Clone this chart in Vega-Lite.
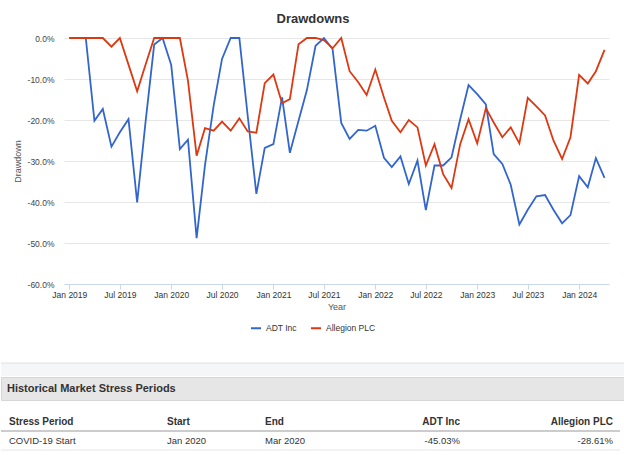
{
  "$schema": "https://vega.github.io/schema/vega-lite/v6.json",
  "description": "ADT Inc vs Allegion PLC drawdowns with historical market stress periods table.",
  "background": "white",
  "padding": {"left": 0, "right": 0, "top": 13, "bottom": 0},
  "config": {
    "font": "Liberation Sans",
    "view": {"stroke": null},
    "locale": {"number": {"decimal": ".", "thousands": ",", "grouping": [3], "currency": ["$", ""], "minus": "-"}},
    "legend": {"layout": {"bottom": {"anchor": "middle"}}},
    "text": {"fontSize": 9.5, "color": "#333333", "baseline": "middle"}
  },
  "datasets": {
    "drawdowns": [
      {"date": "2019-01-01", "series": "ADT Inc", "drawdown": 0},
      {"date": "2019-02-01", "series": "ADT Inc", "drawdown": 0},
      {"date": "2019-03-01", "series": "ADT Inc", "drawdown": 0},
      {"date": "2019-04-01", "series": "ADT Inc", "drawdown": -0.202},
      {"date": "2019-05-01", "series": "ADT Inc", "drawdown": -0.173},
      {"date": "2019-06-01", "series": "ADT Inc", "drawdown": -0.265},
      {"date": "2019-07-01", "series": "ADT Inc", "drawdown": -0.230},
      {"date": "2019-08-01", "series": "ADT Inc", "drawdown": -0.198},
      {"date": "2019-09-01", "series": "ADT Inc", "drawdown": -0.401},
      {"date": "2019-10-01", "series": "ADT Inc", "drawdown": -0.205},
      {"date": "2019-11-01", "series": "ADT Inc", "drawdown": -0.016},
      {"date": "2019-12-01", "series": "ADT Inc", "drawdown": 0},
      {"date": "2020-01-01", "series": "ADT Inc", "drawdown": -0.066},
      {"date": "2020-02-01", "series": "ADT Inc", "drawdown": -0.271},
      {"date": "2020-03-01", "series": "ADT Inc", "drawdown": -0.248},
      {"date": "2020-04-01", "series": "ADT Inc", "drawdown": -0.488},
      {"date": "2020-05-01", "series": "ADT Inc", "drawdown": -0.310},
      {"date": "2020-06-01", "series": "ADT Inc", "drawdown": -0.165},
      {"date": "2020-07-01", "series": "ADT Inc", "drawdown": -0.051},
      {"date": "2020-08-01", "series": "ADT Inc", "drawdown": 0},
      {"date": "2020-09-01", "series": "ADT Inc", "drawdown": 0},
      {"date": "2020-10-01", "series": "ADT Inc", "drawdown": -0.190},
      {"date": "2020-11-01", "series": "ADT Inc", "drawdown": -0.380},
      {"date": "2020-12-01", "series": "ADT Inc", "drawdown": -0.268},
      {"date": "2021-01-01", "series": "ADT Inc", "drawdown": -0.259},
      {"date": "2021-02-01", "series": "ADT Inc", "drawdown": -0.145},
      {"date": "2021-03-01", "series": "ADT Inc", "drawdown": -0.280},
      {"date": "2021-04-01", "series": "ADT Inc", "drawdown": -0.202},
      {"date": "2021-05-01", "series": "ADT Inc", "drawdown": -0.127},
      {"date": "2021-06-01", "series": "ADT Inc", "drawdown": -0.019},
      {"date": "2021-07-01", "series": "ADT Inc", "drawdown": 0},
      {"date": "2021-08-01", "series": "ADT Inc", "drawdown": -0.027},
      {"date": "2021-09-01", "series": "ADT Inc", "drawdown": -0.207},
      {"date": "2021-10-01", "series": "ADT Inc", "drawdown": -0.246},
      {"date": "2021-11-01", "series": "ADT Inc", "drawdown": -0.224},
      {"date": "2021-12-01", "series": "ADT Inc", "drawdown": -0.226},
      {"date": "2022-01-01", "series": "ADT Inc", "drawdown": -0.214},
      {"date": "2022-02-01", "series": "ADT Inc", "drawdown": -0.292},
      {"date": "2022-03-01", "series": "ADT Inc", "drawdown": -0.315},
      {"date": "2022-04-01", "series": "ADT Inc", "drawdown": -0.289},
      {"date": "2022-05-01", "series": "ADT Inc", "drawdown": -0.356},
      {"date": "2022-06-01", "series": "ADT Inc", "drawdown": -0.299},
      {"date": "2022-07-01", "series": "ADT Inc", "drawdown": -0.420},
      {"date": "2022-08-01", "series": "ADT Inc", "drawdown": -0.311},
      {"date": "2022-09-01", "series": "ADT Inc", "drawdown": -0.311},
      {"date": "2022-10-01", "series": "ADT Inc", "drawdown": -0.291},
      {"date": "2022-11-01", "series": "ADT Inc", "drawdown": -0.198},
      {"date": "2022-12-01", "series": "ADT Inc", "drawdown": -0.115},
      {"date": "2023-01-01", "series": "ADT Inc", "drawdown": -0.137},
      {"date": "2023-02-01", "series": "ADT Inc", "drawdown": -0.162},
      {"date": "2023-03-01", "series": "ADT Inc", "drawdown": -0.283},
      {"date": "2023-04-01", "series": "ADT Inc", "drawdown": -0.307},
      {"date": "2023-05-01", "series": "ADT Inc", "drawdown": -0.358},
      {"date": "2023-06-01", "series": "ADT Inc", "drawdown": -0.455},
      {"date": "2023-07-01", "series": "ADT Inc", "drawdown": -0.419},
      {"date": "2023-08-01", "series": "ADT Inc", "drawdown": -0.386},
      {"date": "2023-09-01", "series": "ADT Inc", "drawdown": -0.383},
      {"date": "2023-10-01", "series": "ADT Inc", "drawdown": -0.419},
      {"date": "2023-11-01", "series": "ADT Inc", "drawdown": -0.452},
      {"date": "2023-12-01", "series": "ADT Inc", "drawdown": -0.432},
      {"date": "2024-01-01", "series": "ADT Inc", "drawdown": -0.337},
      {"date": "2024-02-01", "series": "ADT Inc", "drawdown": -0.364},
      {"date": "2024-03-01", "series": "ADT Inc", "drawdown": -0.293},
      {"date": "2024-04-01", "series": "ADT Inc", "drawdown": -0.341},
      {"date": "2019-01-01", "series": "Allegion PLC", "drawdown": 0},
      {"date": "2019-02-01", "series": "Allegion PLC", "drawdown": 0},
      {"date": "2019-03-01", "series": "Allegion PLC", "drawdown": 0},
      {"date": "2019-04-01", "series": "Allegion PLC", "drawdown": 0},
      {"date": "2019-05-01", "series": "Allegion PLC", "drawdown": 0},
      {"date": "2019-06-01", "series": "Allegion PLC", "drawdown": -0.021},
      {"date": "2019-07-01", "series": "Allegion PLC", "drawdown": 0},
      {"date": "2019-08-01", "series": "Allegion PLC", "drawdown": -0.065},
      {"date": "2019-09-01", "series": "Allegion PLC", "drawdown": -0.130},
      {"date": "2019-10-01", "series": "Allegion PLC", "drawdown": -0.065},
      {"date": "2019-11-01", "series": "Allegion PLC", "drawdown": 0},
      {"date": "2019-12-01", "series": "Allegion PLC", "drawdown": 0},
      {"date": "2020-01-01", "series": "Allegion PLC", "drawdown": 0},
      {"date": "2020-02-01", "series": "Allegion PLC", "drawdown": 0},
      {"date": "2020-03-01", "series": "Allegion PLC", "drawdown": -0.104},
      {"date": "2020-04-01", "series": "Allegion PLC", "drawdown": -0.287},
      {"date": "2020-05-01", "series": "Allegion PLC", "drawdown": -0.220},
      {"date": "2020-06-01", "series": "Allegion PLC", "drawdown": -0.226},
      {"date": "2020-07-01", "series": "Allegion PLC", "drawdown": -0.204},
      {"date": "2020-08-01", "series": "Allegion PLC", "drawdown": -0.226},
      {"date": "2020-09-01", "series": "Allegion PLC", "drawdown": -0.196},
      {"date": "2020-10-01", "series": "Allegion PLC", "drawdown": -0.228},
      {"date": "2020-11-01", "series": "Allegion PLC", "drawdown": -0.231},
      {"date": "2020-12-01", "series": "Allegion PLC", "drawdown": -0.110},
      {"date": "2021-01-01", "series": "Allegion PLC", "drawdown": -0.089},
      {"date": "2021-02-01", "series": "Allegion PLC", "drawdown": -0.159},
      {"date": "2021-03-01", "series": "Allegion PLC", "drawdown": -0.149},
      {"date": "2021-04-01", "series": "Allegion PLC", "drawdown": -0.015},
      {"date": "2021-05-01", "series": "Allegion PLC", "drawdown": 0},
      {"date": "2021-06-01", "series": "Allegion PLC", "drawdown": 0},
      {"date": "2021-07-01", "series": "Allegion PLC", "drawdown": -0.005},
      {"date": "2021-08-01", "series": "Allegion PLC", "drawdown": -0.025},
      {"date": "2021-09-01", "series": "Allegion PLC", "drawdown": 0},
      {"date": "2021-10-01", "series": "Allegion PLC", "drawdown": -0.081},
      {"date": "2021-11-01", "series": "Allegion PLC", "drawdown": -0.108},
      {"date": "2021-12-01", "series": "Allegion PLC", "drawdown": -0.139},
      {"date": "2022-01-01", "series": "Allegion PLC", "drawdown": -0.077},
      {"date": "2022-02-01", "series": "Allegion PLC", "drawdown": -0.145},
      {"date": "2022-03-01", "series": "Allegion PLC", "drawdown": -0.202},
      {"date": "2022-04-01", "series": "Allegion PLC", "drawdown": -0.230},
      {"date": "2022-05-01", "series": "Allegion PLC", "drawdown": -0.200},
      {"date": "2022-06-01", "series": "Allegion PLC", "drawdown": -0.218},
      {"date": "2022-07-01", "series": "Allegion PLC", "drawdown": -0.311},
      {"date": "2022-08-01", "series": "Allegion PLC", "drawdown": -0.259},
      {"date": "2022-09-01", "series": "Allegion PLC", "drawdown": -0.332},
      {"date": "2022-10-01", "series": "Allegion PLC", "drawdown": -0.366},
      {"date": "2022-11-01", "series": "Allegion PLC", "drawdown": -0.259},
      {"date": "2022-12-01", "series": "Allegion PLC", "drawdown": -0.198},
      {"date": "2023-01-01", "series": "Allegion PLC", "drawdown": -0.257},
      {"date": "2023-02-01", "series": "Allegion PLC", "drawdown": -0.171},
      {"date": "2023-03-01", "series": "Allegion PLC", "drawdown": -0.206},
      {"date": "2023-04-01", "series": "Allegion PLC", "drawdown": -0.242},
      {"date": "2023-05-01", "series": "Allegion PLC", "drawdown": -0.218},
      {"date": "2023-06-01", "series": "Allegion PLC", "drawdown": -0.257},
      {"date": "2023-07-01", "series": "Allegion PLC", "drawdown": -0.146},
      {"date": "2023-08-01", "series": "Allegion PLC", "drawdown": -0.167},
      {"date": "2023-09-01", "series": "Allegion PLC", "drawdown": -0.189},
      {"date": "2023-10-01", "series": "Allegion PLC", "drawdown": -0.250},
      {"date": "2023-11-01", "series": "Allegion PLC", "drawdown": -0.295},
      {"date": "2023-12-01", "series": "Allegion PLC", "drawdown": -0.242},
      {"date": "2024-01-01", "series": "Allegion PLC", "drawdown": -0.090},
      {"date": "2024-02-01", "series": "Allegion PLC", "drawdown": -0.111},
      {"date": "2024-03-01", "series": "Allegion PLC", "drawdown": -0.081},
      {"date": "2024-04-01", "series": "Allegion PLC", "drawdown": -0.029}
    ],
    "stress": [
      {"Stress Period": "COVID-19 Start", "Start": "Jan 2020", "End": "Mar 2020", "ADT Inc": "-45.03%", "Allegion PLC": "-28.61%"}
    ]
  },
  "resolve": {"scale": {"color": "independent"}, "legend": {"color": "independent"}},
  "spacing": 29,
  "vconcat": [
    {
      "width": 624,
      "height": 246,
      "view": {"stroke": null},
      "title": {"text": "Drawdowns", "fontSize": 13, "fontWeight": "bold", "color": "#333333", "offset": 8},
      "data": {"name": "drawdowns"},
      "mark": {"type": "line", "strokeWidth": 1.8},
      "encoding": {
        "x": {
          "field": "date",
          "type": "temporal",
          "title": "Year",
          "scale": {"type": "utc", "domain": ["2018-12-13", "2024-04-17"], "range": [63, 608]},
          "axis": {
            "format": "%b %Y",
            "tickCount": {"interval": "month", "step": 6},
            "grid": false,
            "domainColor": "#ccd6eb",
            "tickColor": "#ccd6eb",
            "tickSize": 5,
            "labelFontSize": 8.5,
            "labelColor": "#333333",
            "labelPadding": 1,
            "titleFontSize": 9,
            "titleFontWeight": "normal",
            "titleColor": "#555555",
            "titlePadding": 4
          }
        },
        "y": {
          "field": "drawdown",
          "type": "quantitative",
          "title": "Drawdown",
          "scale": {"domain": [-0.6, 0], "nice": false, "zero": false},
          "axis": {
            "format": ".1%",
            "values": [0, -0.1, -0.2, -0.3, -0.4, -0.5, -0.6],
            "offset": -63,
            "domain": false,
            "ticks": false,
            "gridColor": "#e6e6e6",
            "labelFontSize": 8.5,
            "labelColor": "#444444",
            "labelPadding": 10,
            "titleFontSize": 9,
            "titleFontWeight": "normal",
            "titleColor": "#555555",
            "titlePadding": 5
          }
        },
        "color": {
          "field": "series",
          "type": "nominal",
          "scale": {"domain": ["ADT Inc", "Allegion PLC"], "range": ["#3366cc", "#dc3912"]},
          "legend": {
            "orient": "bottom",
            "title": null,
            "direction": "horizontal",
            "symbolType": "stroke",
            "symbolStrokeWidth": 2,
            "symbolSize": 100,
            "labelFontSize": 8.5,
            "labelColor": "#333333",
            "columnPadding": 10,
            "offset": 10
          }
        }
      }
    },
    {
      "spacing": 11,
      "vconcat": [
        {
          "spacing": 0,
          "vconcat": [
            {
              "width": 624,
              "height": 13,
              "view": {"fill": "#f5f6f8", "stroke": null},
              "data": {"values": [{"part": "divider"}]},
              "mark": {"type": "rule", "color": "#e0e0e0", "strokeWidth": 1},
              "encoding": {
                "y": {"datum": 1, "type": "quantitative", "scale": {"domain": [0, 1]}, "axis": null}
              }
            },
            {
              "width": 624,
              "height": 23,
              "view": {"fill": "#e6e6e6", "stroke": "#d6d6d6"},
              "data": {"values": [{"section": "Historical Market Stress Periods"}]},
              "mark": {"type": "text", "align": "left", "fontWeight": "bold", "fontSize": 11, "dx": 6},
              "encoding": {
                "text": {"field": "section"},
                "x": {"datum": 0, "type": "quantitative", "scale": {"domain": [0, 1]}, "axis": null}
              }
            }
          ]
        },
        {
          "spacing": 0,
          "bounds": "flush",
          "hconcat": [
            {
              "width": 163,
              "height": 57,
              "data": {"name": "stress"},
              "transform": [{"fold": ["Stress Period"], "as": ["column", "value"]}],
              "layer": [
                {"mark": {"type": "rule", "color": "#cccccc", "strokeWidth": 2}, "encoding": {"x": {"datum": 0, "type": "quantitative", "scale": {"domain": [0, 1]}, "axis": null}, "x2": {"datum": 1}, "y": {"datum": "Row", "type": "nominal", "bandPosition": 0, "scale": {"type": "band", "domain": ["Header", "Row", "Below"], "paddingInner": 0, "paddingOuter": 0}, "axis": null}}},
                {"mark": {"type": "rule", "color": "#e6e6e6", "strokeWidth": 1}, "encoding": {"x": {"datum": 0, "type": "quantitative", "axis": null}, "x2": {"datum": 1}, "y": {"datum": "Below", "type": "nominal", "bandPosition": 0, "axis": null}}},
                {"mark": {"type": "text", "align": "left", "fontWeight": "bold", "fontSize": 10, "dx": 8}, "encoding": {"text": {"field": "column"}, "x": {"datum": 0, "type": "quantitative", "axis": null}, "y": {"datum": "Header", "type": "nominal", "bandPosition": 0.5, "axis": null}}},
                {"mark": {"type": "text", "align": "left", "dx": 8}, "encoding": {"text": {"field": "value"}, "x": {"datum": 0, "type": "quantitative", "axis": null}, "y": {"datum": "Row", "type": "nominal", "bandPosition": 0.5, "axis": null}}}
              ]
            },
            {
              "width": 98,
              "height": 57,
              "data": {"name": "stress"},
              "transform": [{"fold": ["Start"], "as": ["column", "value"]}],
              "layer": [
                {"mark": {"type": "rule", "color": "#cccccc", "strokeWidth": 2}, "encoding": {"x": {"datum": 0, "type": "quantitative", "scale": {"domain": [0, 1]}, "axis": null}, "x2": {"datum": 1}, "y": {"datum": "Row", "type": "nominal", "bandPosition": 0, "scale": {"type": "band", "domain": ["Header", "Row", "Below"], "paddingInner": 0, "paddingOuter": 0}, "axis": null}}},
                {"mark": {"type": "rule", "color": "#e6e6e6", "strokeWidth": 1}, "encoding": {"x": {"datum": 0, "type": "quantitative", "axis": null}, "x2": {"datum": 1}, "y": {"datum": "Below", "type": "nominal", "bandPosition": 0, "axis": null}}},
                {"mark": {"type": "text", "align": "left", "fontWeight": "bold", "fontSize": 10, "dx": 3}, "encoding": {"text": {"field": "column"}, "x": {"datum": 0, "type": "quantitative", "axis": null}, "y": {"datum": "Header", "type": "nominal", "bandPosition": 0.5, "axis": null}}},
                {"mark": {"type": "text", "align": "left", "dx": 3}, "encoding": {"text": {"field": "value"}, "x": {"datum": 0, "type": "quantitative", "axis": null}, "y": {"datum": "Row", "type": "nominal", "bandPosition": 0.5, "axis": null}}}
              ]
            },
            {
              "width": 99,
              "height": 57,
              "data": {"name": "stress"},
              "transform": [{"fold": ["End"], "as": ["column", "value"]}],
              "layer": [
                {"mark": {"type": "rule", "color": "#cccccc", "strokeWidth": 2}, "encoding": {"x": {"datum": 0, "type": "quantitative", "scale": {"domain": [0, 1]}, "axis": null}, "x2": {"datum": 1}, "y": {"datum": "Row", "type": "nominal", "bandPosition": 0, "scale": {"type": "band", "domain": ["Header", "Row", "Below"], "paddingInner": 0, "paddingOuter": 0}, "axis": null}}},
                {"mark": {"type": "rule", "color": "#e6e6e6", "strokeWidth": 1}, "encoding": {"x": {"datum": 0, "type": "quantitative", "axis": null}, "x2": {"datum": 1}, "y": {"datum": "Below", "type": "nominal", "bandPosition": 0, "axis": null}}},
                {"mark": {"type": "text", "align": "left", "fontWeight": "bold", "fontSize": 10, "dx": 3}, "encoding": {"text": {"field": "column"}, "x": {"datum": 0, "type": "quantitative", "axis": null}, "y": {"datum": "Header", "type": "nominal", "bandPosition": 0.5, "axis": null}}},
                {"mark": {"type": "text", "align": "left", "dx": 3}, "encoding": {"text": {"field": "value"}, "x": {"datum": 0, "type": "quantitative", "axis": null}, "y": {"datum": "Row", "type": "nominal", "bandPosition": 0.5, "axis": null}}}
              ]
            },
            {
              "width": 102,
              "height": 57,
              "data": {"name": "stress"},
              "transform": [{"fold": ["ADT Inc"], "as": ["column", "value"]}],
              "layer": [
                {"mark": {"type": "rule", "color": "#cccccc", "strokeWidth": 2}, "encoding": {"x": {"datum": 0, "type": "quantitative", "scale": {"domain": [0, 1]}, "axis": null}, "x2": {"datum": 1}, "y": {"datum": "Row", "type": "nominal", "bandPosition": 0, "scale": {"type": "band", "domain": ["Header", "Row", "Below"], "paddingInner": 0, "paddingOuter": 0}, "axis": null}}},
                {"mark": {"type": "rule", "color": "#e6e6e6", "strokeWidth": 1}, "encoding": {"x": {"datum": 0, "type": "quantitative", "axis": null}, "x2": {"datum": 1}, "y": {"datum": "Below", "type": "nominal", "bandPosition": 0, "axis": null}}},
                {"mark": {"type": "text", "align": "right", "fontWeight": "bold", "fontSize": 10, "dx": -3}, "encoding": {"text": {"field": "column"}, "x": {"datum": 1, "type": "quantitative", "axis": null}, "y": {"datum": "Header", "type": "nominal", "bandPosition": 0.5, "axis": null}}},
                {"mark": {"type": "text", "align": "right", "dx": -3}, "encoding": {"text": {"field": "value"}, "x": {"datum": 1, "type": "quantitative", "axis": null}, "y": {"datum": "Row", "type": "nominal", "bandPosition": 0.5, "axis": null}}}
              ]
            },
            {
              "width": 157,
              "height": 57,
              "data": {"name": "stress"},
              "transform": [{"fold": ["Allegion PLC"], "as": ["column", "value"]}],
              "layer": [
                {"mark": {"type": "rule", "color": "#cccccc", "strokeWidth": 2}, "encoding": {"x": {"datum": 0, "type": "quantitative", "scale": {"domain": [0, 1]}, "axis": null}, "x2": {"datum": 1}, "y": {"datum": "Row", "type": "nominal", "bandPosition": 0, "scale": {"type": "band", "domain": ["Header", "Row", "Below"], "paddingInner": 0, "paddingOuter": 0}, "axis": null}}},
                {"mark": {"type": "rule", "color": "#e6e6e6", "strokeWidth": 1}, "encoding": {"x": {"datum": 0, "type": "quantitative", "axis": null}, "x2": {"datum": 1}, "y": {"datum": "Below", "type": "nominal", "bandPosition": 0, "axis": null}}},
                {"mark": {"type": "text", "align": "right", "fontWeight": "bold", "fontSize": 10, "dx": -7}, "encoding": {"text": {"field": "column"}, "x": {"datum": 1, "type": "quantitative", "axis": null}, "y": {"datum": "Header", "type": "nominal", "bandPosition": 0.5, "axis": null}}},
                {"mark": {"type": "text", "align": "right", "dx": -7}, "encoding": {"text": {"field": "value"}, "x": {"datum": 1, "type": "quantitative", "axis": null}, "y": {"datum": "Row", "type": "nominal", "bandPosition": 0.5, "axis": null}}}
              ]
            }
          ]
        }
      ]
    }
  ]
}
